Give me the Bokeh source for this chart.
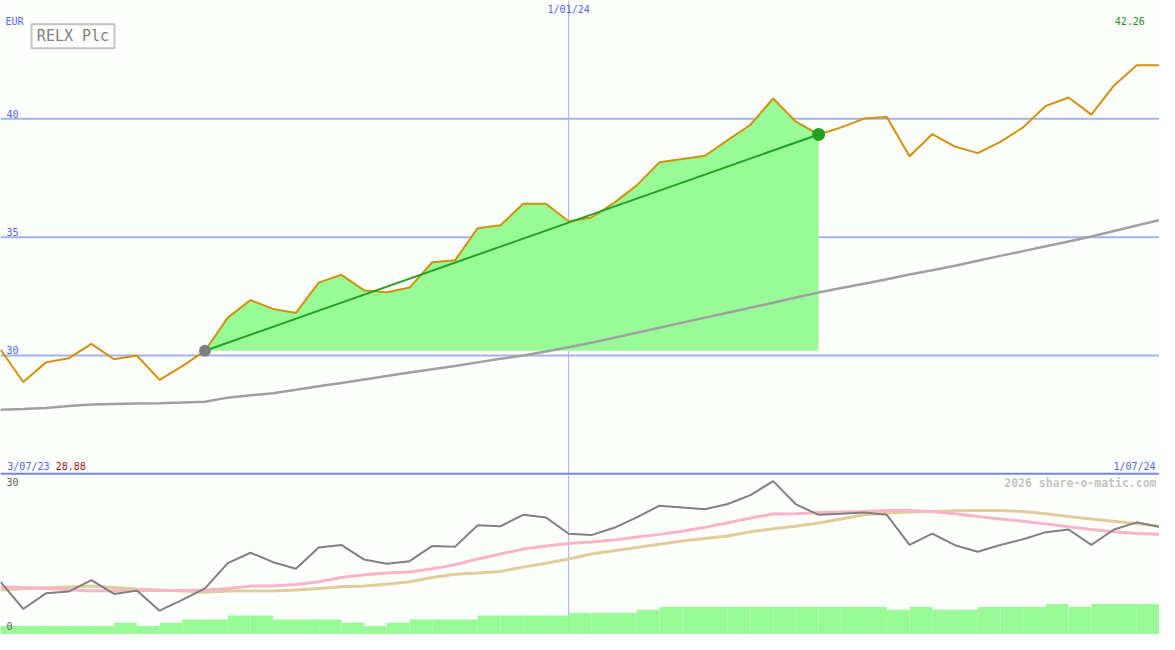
from bokeh.plotting import figure
from bokeh.models import Range1d, Span, Label
from bokeh.layouts import column
from bokeh.embed import file_html
from bokeh.resources import INLINE

# ---------------- data (weekly, index based) ----------------
date_start = "3/07/23"
date_mid = "1/01/24"
date_end = "1/07/24"
mid_index = 25

price = [30.25, 28.88, 29.71, 29.88, 30.49, 29.84, 30.00, 28.97, 29.55, 30.20,
         31.60, 32.34, 31.97, 31.80, 33.08, 33.41, 32.75, 32.67, 32.87, 33.94,
         34.02, 35.38, 35.50, 36.41, 36.41, 35.67, 35.83, 36.45, 37.19, 38.17,
         38.30, 38.44, 39.10, 39.75, 40.86, 39.88, 39.34, 39.64, 40.01, 40.08,
         38.42, 39.35, 38.83, 38.55, 39.03, 39.64, 40.55, 40.90, 40.18, 41.41,
         42.26, 42.26]

long_ma = [27.71, 27.74, 27.78, 27.87, 27.93, 27.95, 27.97, 27.98, 28.01, 28.05,
           28.22, 28.32, 28.41, 28.55, 28.70, 28.84, 28.99, 29.13, 29.28, 29.42,
           29.56, 29.71, 29.86, 30.00, 30.17, 30.35, 30.54, 30.75, 30.96, 31.17,
           31.39, 31.60, 31.81, 32.02, 32.23, 32.45, 32.66, 32.85, 33.03, 33.22,
           33.42, 33.60, 33.79, 34.00, 34.21, 34.41, 34.62, 34.82, 35.03, 35.26,
           35.49, 35.72]

indicator = [9.82, 4.56, 7.59, 7.92, 10.12, 7.46, 8.11, 4.23, 6.32, 8.54,
             13.42, 15.44, 13.61, 12.34, 16.46, 16.95, 14.11, 13.29, 13.80, 16.76,
             16.58, 20.75, 20.56, 22.78, 22.27, 19.12, 18.85, 20.26, 22.27, 24.55,
             24.17, 23.87, 24.87, 26.58, 29.30, 24.81, 22.78, 22.97, 23.22, 22.78,
             16.95, 19.12, 16.90, 15.63, 16.95, 18.04, 19.42, 19.94, 16.95, 19.94,
             21.32, 20.45]

ind_ma_short = [8.87, 8.70, 8.54, 8.30, 8.03, 8.07, 8.11, 8.11, 8.11, 8.22,
                8.54, 8.98, 8.98, 9.30, 9.82, 10.63, 11.20, 11.52, 11.71, 12.34,
                13.10, 14.24, 15.19, 16.14, 16.76, 17.22, 17.52, 17.90, 18.47, 18.99,
                19.61, 20.37, 21.21, 22.16, 22.92, 22.97, 23.22, 23.30, 23.41, 23.60,
                23.60, 23.41, 22.97, 22.46, 21.97, 21.51, 21.02, 20.45, 19.94, 19.50,
                19.18, 18.99]

ind_ma_long = [8.22, 8.45, 8.68, 8.83, 8.98, 8.70, 8.41, 8.22, 8.03, 7.78,
               8.03, 8.03, 8.03, 8.22, 8.54, 8.87, 8.98, 9.36, 9.82, 10.63,
               11.26, 11.52, 11.83, 12.66, 13.42, 14.24, 15.19, 15.82, 16.46, 17.09,
               17.71, 18.17, 18.66, 19.50, 20.07, 20.56, 21.21, 21.97, 22.78, 23.11,
               23.30, 23.41, 23.54, 23.60, 23.60, 23.41, 22.97, 22.46, 21.97, 21.51,
               21.07, 20.56]

volume = [1.3, 1.3, 1.3, 1.3, 1.3, 1.8, 1.3, 1.8, 2.3, 2.3,
          2.9, 2.9, 2.3, 2.3, 2.3, 1.8, 1.3, 1.8, 2.3, 2.3,
          2.3, 2.9, 2.9, 2.9, 2.9, 3.3, 3.3, 3.3, 3.8, 4.2,
          4.2, 4.2, 4.2, 4.2, 4.2, 4.2, 4.2, 4.2, 4.2, 3.8,
          4.2, 3.8, 3.8, 4.2, 4.2, 4.2, 4.65, 4.2, 4.65, 4.65,
          4.65]

price_grid = [30, 35, 40]
trend_start = 9
trend_end = 36
title = "RELX Plc"
currency = "EUR"
lower_ticks = [30, 0]
watermark = "2026 share-o-matic.com"

# ---------------- styling ----------------
BG = "#fcfffc"
GRID = "#a4b2f0"
SEP = "#7484f0"
BLUE_TXT = "#5464f4"
FONT = "DejaVu Sans Mono"
W = 1159
H_TOP = 475
H_BOT = 159

n = len(price)
idx = list(range(n))

top = figure(width=W, height=H_TOP, x_range=Range1d(0, n - 1), y_range=Range1d(24.93, 45.0),
             output_backend="svg", toolbar_location=None, min_border=0,
             x_axis_location=None, y_axis_location=None,
             background_fill_color=BG, border_fill_color=BG, outline_line_color=None)
top.grid.visible = False

for g in price_grid:
    top.add_layout(Span(location=g, dimension="width", line_color=GRID, line_width=2, level="underlay"))
top.add_layout(Span(location=mid_index, dimension="height", line_color=GRID, line_width=1, level="underlay"))
top.add_layout(Span(location=25.0, dimension="width", line_color=SEP, line_width=2))

# shaded gain area
fx = idx[trend_start:trend_end + 1]
fy = price[trend_start:trend_end + 1]
top.varea(x=fx, y1=[price[trend_start]] * len(fx), y2=fy, fill_color="#98fb98", fill_alpha=1.0)

top.line(idx, long_ma, line_color="#a0a0a0", line_width=2.5)
top.line(idx, price, line_color="#d4900c", line_width=2)
top.line([trend_start, trend_end], [price[trend_start], price[trend_end]], line_color="#22a022", line_width=2)
top.scatter([trend_start], [price[trend_start]], size=12, fill_color="#808080", line_color=None)
top.scatter([trend_end], [price[trend_end]], size=13, fill_color="#22a022", line_color=None)

# title box
top.rect(x=[3.19], y=[43.49], width=83, height=24, width_units="screen", height_units="screen",
         fill_color=None, line_color="#c4c4c4", line_width=2)
top.add_layout(Label(x=3.19, y=43.49, text=title, text_align="center", text_baseline="middle",
                     text_color="#808080", text_font=FONT, text_font_size="15px"))


def lab(fig, x, y, txt, color, align="left", size="10px", style="normal"):
    fig.add_layout(Label(x=x, y=y, text=txt, text_align=align, text_baseline="middle",
                         text_color=color, text_font=FONT, text_font_size=size, text_font_style=style))


lab(top, 0.22, 44.13, currency, BLUE_TXT)
for g in price_grid:
    lab(top, 0.26, g + 0.22, str(g), BLUE_TXT)
lab(top, mid_index, 44.62, date_mid, BLUE_TXT, align="center")
lab(top, 50.35, 44.13, f"{price[-1]:.2f}", "#209020", align="right")
lab(top, 0.3, 25.32, date_start, BLUE_TXT)
lab(top, 2.43, 25.32, f"{min(price):.2f}", "#a01818")
lab(top, 50.83, 25.32, date_end, BLUE_TXT, align="right")

# ---------------- lower panel ----------------
bot = figure(width=W, height=H_BOT, x_range=top.x_range, y_range=Range1d(-0.38, 30.38),
             output_backend="svg", toolbar_location=None, min_border=0,
             x_axis_location=None, y_axis_location=None,
             background_fill_color=BG, border_fill_color=BG, outline_line_color=None)
bot.grid.visible = False
bot.extra_y_ranges = {"vol": Range1d(0, 24.3)}

bot.add_layout(Span(location=mid_index, dimension="height", line_color=GRID, line_width=1, level="underlay"))
bot.vbar(x=[i + 0.5 for i in range(len(volume))], width=1.0, top=volume, bottom=0,
         y_range_name="vol", fill_color="#98fb98", line_color=None)
bot.line(idx, ind_ma_long, line_color="#e2cc9a", line_width=3)
bot.line(idx, ind_ma_short, line_color="#f9b4c8", line_width=3)
bot.line(idx, indicator, line_color="#808080", line_width=2)

lab(bot, 0.26, 29.05, str(lower_ticks[0]), "#606060")
lab(bot, 0.26, 1.33, str(lower_ticks[1]), "#606060")
lab(bot, 50.87, 28.86, watermark, "#c4c4c4", align="right", size="11.5px", style="bold")

layout = column(top, bot, spacing=0)
open("out.html", "w").write(file_html(layout, INLINE))
